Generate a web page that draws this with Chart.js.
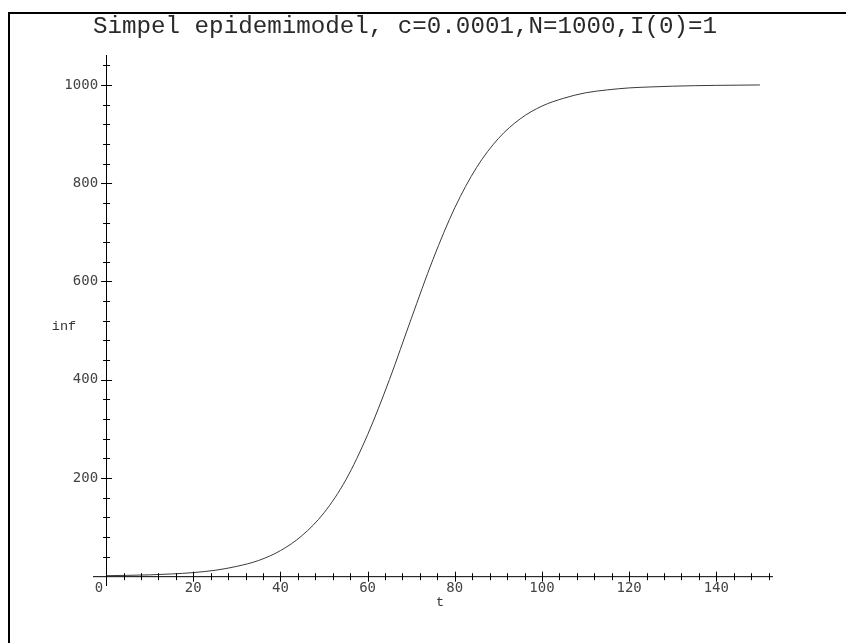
<!DOCTYPE html>
<html>
<head>
<meta charset="utf-8">
<script src="https://cdn.jsdelivr.net/npm/chart.js@4.4.1/dist/chart.umd.min.js"></script>
<style>
  html, body { margin: 0; padding: 0; background: #fff; }
  #wrap { width: 846px; height: 643px; position: relative; }
</style>
</head>
<body>
<div id="wrap"><canvas id="epi" width="846" height="643"></canvas></div>
<script>
// ==============================
// DATA
// ==============================
const titleText = "Simpel epidemimodel, c=0.0001,N=1000,I(0)=1";
const tValues = [0, 5, 10, 15, 20, 25, 30, 35, 40, 45, 50, 55, 60, 65, 70, 75,
  80, 85, 90, 95, 100, 105, 110, 115, 120, 125, 130, 135, 140, 145, 150];
const infValues = [1, 1.7, 2.7, 4.5, 7.3, 12, 20, 32, 52, 83, 129, 196, 288, 400, 524, 645,
  750, 832, 891, 931, 957, 973, 984, 990, 994, 996, 997.5, 998.5, 999.2, 999.6, 1000];
const xTicks = [20, 40, 60, 80, 100, 120, 140];
const yTicks = [200, 400, 600, 800, 1000];
const xMinorStep = 4;
const yMinorStep = 40;

// ==============================
// AXES PLUGIN (maple style axes through origin)
// ==============================
const mapleAxes = {
  id: "mapleAxes",
  afterDatasetsDraw(chart) {
    const { ctx, scales } = chart;
    const xs = scales.x, ys = scales.y;
    const x0 = xs.getPixelForValue(0);
    const y0 = ys.getPixelForValue(0);

    ctx.save();
    // page frame
    ctx.fillStyle = "#000";
    ctx.fillRect(8, 12, 846 - 8, 2);
    ctx.fillRect(8, 12, 2, 643 - 12);

    ctx.strokeStyle = "#000";
    ctx.lineWidth = 1;
    ctx.beginPath();
    ctx.moveTo(xs.getPixelForValue(xs.min), y0 + 0.5);
    ctx.lineTo(xs.getPixelForValue(xs.max), y0 + 0.5);
    ctx.moveTo(Math.round(x0) + 0.5, ys.getPixelForValue(ys.min));
    ctx.lineTo(Math.round(x0) + 0.5, ys.getPixelForValue(ys.max));
    ctx.stroke();

    // x ticks
    ctx.beginPath();
    for (let v = xMinorStep; v <= xs.max; v += xMinorStep) {
      const px = Math.round(xs.getPixelForValue(v)) + 0.5;
      const len = v % 20 === 0 ? 4.5 : 3;
      ctx.moveTo(px, y0 - len);
      ctx.lineTo(px, y0 + len + 1);
    }
    // y ticks
    for (let v = yMinorStep; v <= ys.max; v += yMinorStep) {
      const py = Math.round(ys.getPixelForValue(v)) + 0.5;
      const len = v % 200 === 0 ? 5 : 3;
      ctx.moveTo(x0 - len, py);
      ctx.lineTo(x0 + len + 1, py);
    }
    ctx.stroke();

    // tick labels
    ctx.fillStyle = "#444";
    ctx.font = "14px 'DejaVu Sans Mono'";
    ctx.textAlign = "center";
    ctx.textBaseline = "top";
    xTicks.forEach(v => ctx.fillText(String(v), xs.getPixelForValue(v), y0 + 5));
    ctx.fillText("0", x0 - 7, y0 + 5);
    ctx.textAlign = "right";
    ctx.textBaseline = "middle";
    yTicks.forEach(v => ctx.fillText(String(v), x0 - 8, ys.getPixelForValue(v)));

    // axis titles
    ctx.fillStyle = "#333";
    ctx.font = "13.5px 'Liberation Mono'";
    ctx.textAlign = "center";
    ctx.fillText("t", 440, 602);
    ctx.fillText("inf", 64, 326);

    // title
    ctx.fillStyle = "#2a2a2a";
    ctx.font = "24.2px 'Liberation Mono'";
    ctx.textAlign = "left";
    ctx.fillText(titleText, 93, 27);
    ctx.restore();
  }
};

// ==============================
// CHART
// ==============================
new Chart(document.getElementById("epi").getContext("2d"), {
  type: "line",
  data: {
    datasets: [{
      data: tValues.map((t, i) => ({ x: t, y: infValues[i] })),
      borderColor: "#3a3a3a",
      borderWidth: 1,
      pointRadius: 0,
      cubicInterpolationMode: "monotone",
      fill: false
    }]
  },
  options: {
    responsive: false,
    animation: false,
    layout: { padding: { left: 93, right: 73, top: 55, bottom: 57 } },
    plugins: { legend: { display: false }, tooltip: { enabled: false } },
    scales: {
      x: { type: "linear", min: -3, max: 153, display: false },
      y: { type: "linear", min: -20, max: 1061, display: false }
    }
  },
  plugins: [mapleAxes]
});
</script>
</body>
</html>
